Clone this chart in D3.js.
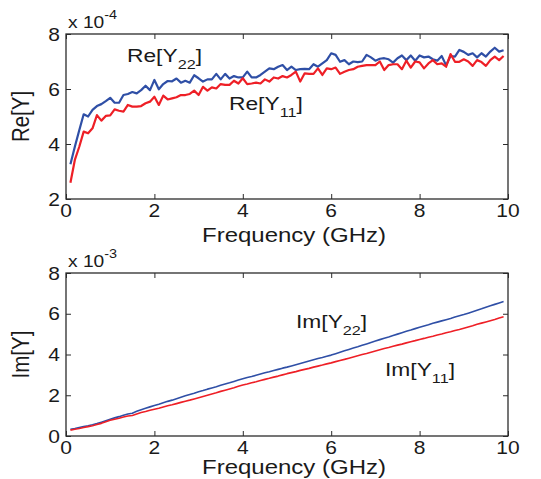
<!DOCTYPE html>
<html>
<head>
<meta charset="utf-8">
<script src="https://cdn.jsdelivr.net/npm/d3@7/dist/d3.min.js"></script>
<style>
  html, body { margin: 0; padding: 0; background: #fff; }
  svg { display: block; }
  text { font-family: "Liberation Sans", Arial, Helvetica, sans-serif; fill: #1a1a1a; }
</style>
</head>
<body>
<svg id="chart" width="541" height="479"></svg>
<script>
// Frequency sweep, GHz
const freq = d3.range(1, 100).map(i => i / 10);

// Real part of admittance, units of 1e-4 S
const reY22 = [
  3.26, 3.90, 4.50, 5.08, 5.00, 5.24, 5.38, 5.45, 5.56, 5.68,
  5.50, 5.50, 5.78, 5.82, 5.89, 5.84, 5.96, 6.12, 5.96, 6.33,
  5.99, 6.18, 6.29, 6.28, 6.38, 6.23, 6.30, 6.23, 6.50, 6.39,
  6.27, 6.35, 6.35, 6.55, 6.35, 6.55, 6.38, 6.47, 6.42, 6.42,
  6.63, 6.42, 6.42, 6.51, 6.63, 6.75, 6.72, 6.81, 6.87, 6.69,
  6.81, 6.69, 6.72, 6.73, 6.72, 6.90, 6.81, 6.93, 7.05, 7.30,
  7.24, 6.99, 7.05, 6.90, 7.00, 6.98, 7.00, 7.24, 7.15, 7.03,
  7.10, 7.12, 7.08, 6.96, 7.12, 7.22, 7.05, 7.22, 7.03, 7.22,
  7.15, 7.18, 7.08, 7.03, 7.20, 6.86, 7.20, 7.18, 7.42, 7.35,
  7.24, 7.30, 7.15, 7.30, 7.18, 7.36, 7.50, 7.36, 7.41
];
const reY11 = [
  2.59, 3.42, 3.90, 4.45, 4.39, 4.57, 5.05, 4.85, 5.02, 5.04,
  5.26, 5.21, 5.18, 5.42, 5.36, 5.36, 5.38, 5.48, 5.54, 5.72,
  5.42, 5.76, 5.62, 5.66, 5.70, 5.78, 5.78, 5.82, 5.94, 5.78,
  6.08, 5.94, 6.06, 6.02, 6.18, 6.15, 6.15, 6.30, 6.20, 6.39,
  6.18, 6.20, 6.23, 6.20, 6.35, 6.27, 6.42, 6.38, 6.47, 6.42,
  6.51, 6.63, 6.27, 6.57, 6.55, 6.55, 6.75, 6.51, 6.75, 6.72,
  6.78, 6.55, 6.63, 6.69, 6.72, 6.81, 6.84, 6.87, 6.87, 6.87,
  7.00, 6.69, 6.87, 6.90, 6.90, 6.72, 7.03, 6.78, 7.00, 6.97,
  6.75, 6.93, 7.05, 6.90, 6.93, 6.81, 7.27, 6.99, 6.99, 7.08,
  7.00, 6.84, 7.05, 6.98, 6.84, 7.05, 7.18, 7.05, 7.20
];

// Imaginary part of admittance, units of 1e-3 S
const imY22 = [
  0.33, 0.37, 0.42, 0.47, 0.50, 0.55, 0.61, 0.68, 0.75, 0.82,
  0.89, 0.95, 1.02, 1.08, 1.12, 1.21, 1.29, 1.36, 1.43, 1.50,
  1.56, 1.63, 1.70, 1.76, 1.83, 1.90, 1.97, 2.04, 2.10, 2.17,
  2.23, 2.30, 2.36, 2.42, 2.49, 2.55, 2.61, 2.68, 2.75, 2.81,
  2.87, 2.92, 2.98, 3.04, 3.10, 3.15, 3.21, 3.27, 3.33, 3.38,
  3.44, 3.50, 3.56, 3.62, 3.68, 3.74, 3.80, 3.85, 3.91, 3.97,
  4.04, 4.11, 4.18, 4.25, 4.32, 4.38, 4.45, 4.52, 4.59, 4.66,
  4.73, 4.80, 4.86, 4.93, 5.00, 5.07, 5.14, 5.20, 5.27, 5.34,
  5.40, 5.46, 5.53, 5.59, 5.65, 5.71, 5.77, 5.84, 5.90, 5.96,
  6.03, 6.10, 6.17, 6.24, 6.32, 6.39, 6.46, 6.53, 6.60
];
const imY11 = [
  0.29, 0.33, 0.37, 0.42, 0.46, 0.50, 0.56, 0.62, 0.70, 0.77,
  0.82, 0.87, 0.93, 0.98, 1.01, 1.08, 1.15, 1.20, 1.26, 1.31,
  1.36, 1.42, 1.48, 1.53, 1.59, 1.65, 1.71, 1.76, 1.82, 1.88,
  1.94, 2.00, 2.06, 2.12, 2.19, 2.25, 2.31, 2.37, 2.44, 2.50,
  2.55, 2.61, 2.66, 2.72, 2.78, 2.83, 2.89, 2.94, 3.00, 3.06,
  3.11, 3.16, 3.22, 3.27, 3.32, 3.38, 3.43, 3.48, 3.54, 3.59,
  3.65, 3.71, 3.76, 3.82, 3.88, 3.94, 4.00, 4.05, 4.11, 4.17,
  4.23, 4.29, 4.34, 4.40, 4.46, 4.51, 4.57, 4.63, 4.68, 4.74,
  4.79, 4.85, 4.90, 4.96, 5.01, 5.07, 5.12, 5.18, 5.23, 5.29,
  5.35, 5.41, 5.48, 5.54, 5.60, 5.66, 5.72, 5.79, 5.85
];

// Tick values
const xTicks = [0, 2, 4, 6, 8, 10];
const reTicks = [2, 4, 6, 8];
const imTicks = [0, 2, 4, 6, 8];

const BLUE = "#2f4fa6";
const RED = "#ee1f26";
const AXIS = "#2b2b2b";
const SX = 1.2; // horizontal widening of the lettering

const svg = d3.select("#chart");

// Text helper: places a text element with horizontally widened glyphs
function label(g, x, y, size, anchor, rot) {
  const t = g.append("text")
    .attr("transform", `translate(${x},${y}) scale(${SX},1)` + (rot ? ` rotate(${rot})` : ""))
    .attr("font-size", size)
    .attr("text-anchor", anchor);
  return t;
}

function panel(opts) {
  const { left, right, top, bottom, yDomain, yTicks, series, exp, yTitle, lineWidth, notes, titleY } = opts;
  const x = d3.scaleLinear().domain([0, 10]).range([left, right]);
  const y = d3.scaleLinear().domain(yDomain).range([bottom, top]);
  const g = svg.append("g");

  // data lines
  const line = d3.line().x((d, i) => x(freq[i])).y(d => y(d));
  series.forEach(s => {
    g.append("path")
      .datum(s.values)
      .attr("fill", "none")
      .attr("stroke", s.color)
      .attr("stroke-width", lineWidth)
      .attr("stroke-linejoin", "round")
      .attr("d", line);
  });

  // inward ticks on all four sides
  const tickLen = 5;
  const axB = d3.axisBottom(x).tickValues(xTicks).tickSize(-tickLen).tickFormat("");
  const axT = d3.axisTop(x).tickValues(xTicks).tickSize(-tickLen).tickFormat("");
  const axL = d3.axisLeft(y).tickValues(yTicks).tickSize(-tickLen).tickFormat("");
  const axR = d3.axisRight(y).tickValues(yTicks).tickSize(-tickLen).tickFormat("");
  [[axB, `0,${bottom}`], [axT, `0,${top}`], [axL, `${left},0`], [axR, `${right},0`]].forEach(([ax, tr]) => {
    const a = g.append("g").attr("transform", `translate(${tr})`).call(ax);
    a.select(".domain").remove();
    a.selectAll("line").attr("stroke", AXIS).attr("stroke-width", 1);
  });

  // frame
  g.append("rect")
    .attr("x", left).attr("y", top)
    .attr("width", right - left).attr("height", bottom - top)
    .attr("fill", "none").attr("stroke", AXIS).attr("stroke-width", 1.3);

  // tick labels
  xTicks.forEach(v => {
    label(g, x(v), bottom + 18, 17.5, "middle").text(v);
  });
  yTicks.forEach(v => {
    label(g, left - 6, y(v) + 6.5, 17.5, "end").text(v);
  });

  // exponent
  const e = label(g, left + 2, top - 6, 16, "start");
  e.append("tspan").text("x 10");
  e.append("tspan").attr("font-size", 12).attr("dy", -9).text(exp);

  // axis titles
  label(g, (left + right) / 2 + 7, titleY, 20, "middle").text("Frequency (GHz)");
  label(g, 29, (top + bottom) / 2, 20.5, "middle", -90).text(yTitle);

  // curve annotations
  notes.forEach(n => {
    const t = label(g, n.x, n.y, 19, "start");
    t.append("tspan").text(n.pre);
    t.append("tspan").attr("font-size", 13.5).attr("dy", 7).text(n.sub);
    t.append("tspan").attr("dy", -7).text("]");
  });
}

panel({
  left: 66, right: 508, top: 34, bottom: 199, titleY: 242,
  yDomain: [2, 8], yTicks: reTicks, exp: "-4", yTitle: "Re[Y]", lineWidth: 2.2,
  series: [
    { values: reY22, color: BLUE },
    { values: reY11, color: RED }
  ],
  notes: [
    { x: 127, y: 62, pre: "Re[Y", sub: "22" },
    { x: 229, y: 110, pre: "Re[Y", sub: "11" }
  ]
});

panel({
  left: 66, right: 508, top: 273, bottom: 436, titleY: 474,
  yDomain: [0, 8], yTicks: imTicks, exp: "-3", yTitle: "Im[Y]", lineWidth: 1.6,
  series: [
    { values: imY22, color: BLUE },
    { values: imY11, color: RED }
  ],
  notes: [
    { x: 296, y: 328, pre: "Im[Y", sub: "22" },
    { x: 385, y: 376, pre: "Im[Y", sub: "11" }
  ]
});
</script>
</body>
</html>
